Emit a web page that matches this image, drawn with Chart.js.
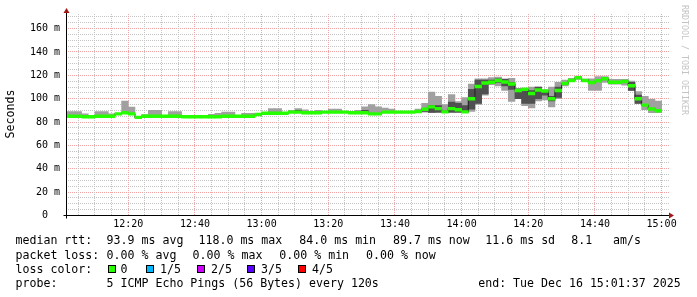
<!DOCTYPE html>
<html>
<head>
<meta charset="utf-8">
<script src="https://cdn.jsdelivr.net/npm/chart.js@4.4.1/dist/chart.umd.min.js"></script>
<style>
  html, body { margin: 0; padding: 0; background: #fff; overflow: hidden; }
</style>
</head>
<body>
<canvas id="smokeChart" width="697" height="297"></canvas>
<script>
// end of each 2 min step, minutes after 12:00
const bucketEnd = [
  2, 4, 6, 8, 10, 12, 14, 16, 18, 20,
  22, 24, 26, 28, 30, 32, 34, 36, 38, 40,
  42, 44, 46, 48, 50, 52, 54, 56, 58, 60,
  62, 64, 66, 68, 70, 72, 74, 76, 78, 80,
  82, 84, 86, 88, 90, 92, 94, 96, 98, 100,
  102, 104, 106, 108, 110, 112, 114, 116, 118, 120,
  122, 124, 126, 128, 130, 132, 134, 136, 138, 140,
  142, 144, 146, 148, 150, 152, 154, 156, 158, 160,
  162, 164, 166, 168, 170, 172, 174, 176, 178, 180
];

// median rtt (ms)
const median = [
  85, 85, 85, 84.5, 84.5, 85, 85, 85, 87, 88,
  87, 84, 85, 85, 85, 85, 85, 85, 84.5, 84.5,
  84.5, 84.5, 84.5, 84.5, 85, 85, 85, 85, 85, 86.5,
  87.5, 87.5, 87.5, 87.5, 88.5, 88.5, 88, 88, 88, 88.5,
  88.5, 88.5, 88.5, 88, 88, 88, 87, 87, 88.5, 88.5,
  88.5, 88.5, 88.5, 89, 91, 93, 91.5, 88.7, 91.5, 90.5,
  88.7, 100, 110.5, 113.5, 114, 115.5, 114.3, 112.5, 107, 108,
  104.5, 107.5, 106.5, 100, 107, 113, 115.5, 118, 115.5, 113.8,
  115.3, 117, 114, 114, 114.7, 111, 100, 94.5, 91.2, 89.7
];

// fastest ping of the 5
const pingLow = [
  85, 85, 85, 84.5, 84.5, 85, 85, 85, 87, 88,
  87, 84, 85, 85, 85, 85, 85, 85, 84.5, 84.5,
  84.5, 84.5, 84.5, 84.5, 85, 85, 85, 85, 85, 86.5,
  87.5, 87.5, 87.5, 87.5, 88.5, 88.5, 88, 88, 88, 88.5,
  88.5, 88.5, 88.5, 88, 88, 88, 87, 87, 88.5, 88.5,
  88.5, 88.5, 88.5, 88.5, 88.5, 88, 88, 88, 88, 88,
  88.5, 89, 95, 103, 112, 111, 107, 97.7, 100, 94,
  92, 98, 99, 93, 100, 111, 115, 116.5, 115, 107,
  107, 114, 112.5, 112.5, 111.5, 107, 96, 90.5, 88, 88
];

// 2nd ping
const ping2 = [
  85, 85, 85, 84.5, 84.5, 85, 85, 85, 87, 88,
  87, 84, 85, 85, 85, 85, 85, 85, 84.5, 84.5,
  84.5, 84.5, 84.5, 84.5, 85, 85, 85, 85, 85, 86.5,
  87.5, 87.5, 87.5, 87.5, 88.5, 88.5, 88, 88, 88, 88.5,
  88.5, 88.5, 88.5, 88, 88, 88, 87, 87, 88.5, 88.5,
  88.5, 88.5, 88.5, 89, 89, 88.3, 88.5, 88, 88.5, 88.5,
  88.5, 91, 96, 104, 113, 114, 111, 108, 100, 96,
  96, 100, 103, 98, 101, 113, 115.5, 118, 115, 113.8,
  115.3, 117, 114, 114, 114.7, 107, 96, 94.5, 91.2, 89.7
];

// 4th ping
const ping4 = [
  85, 85, 85, 84.5, 84.5, 85, 85, 85, 87, 88,
  87, 84, 85, 85, 85, 85, 85, 85, 84.5, 84.5,
  84.5, 84.5, 84.5, 84.5, 85, 85, 85, 85, 85, 86.5,
  87.5, 87.5, 87.5, 87.5, 88.5, 90, 88, 88, 88, 88.5,
  88.5, 88.5, 88.5, 88, 88, 90, 87, 87, 88.5, 88.5,
  88.5, 88.5, 88.5, 89, 91.5, 94, 94, 89.5, 97, 96,
  94, 108, 116, 116, 116, 117, 116.5, 114, 108.5, 108,
  107, 110, 107, 102, 110, 113, 115.5, 118, 116.5, 113.8,
  115.3, 117, 114, 114, 114.7, 114, 103, 94.5, 91.2, 89.7
];

// slowest ping of the 5
const pingHigh = [
  89, 89, 89, 87, 84.5, 89, 89, 87, 87, 98,
  92.8, 84, 86.5, 90, 90, 85, 89, 89, 84.5, 84.5,
  84.5, 84.5, 86.6, 87.5, 88.5, 88.5, 85, 87.5, 87.5, 86.5,
  87.5, 91.5, 91.5, 87.5, 90, 91.5, 90.5, 88, 90, 88.5,
  91, 91, 88.5, 88, 90, 93, 95, 93, 92, 91,
  88.5, 88.5, 88.5, 91, 96, 105.6, 102, 95, 103.5, 97.5,
  101, 112.6, 117, 117, 118, 118.5, 117, 117.5, 108.5, 108.5,
  110, 110, 107.5, 110, 114, 116, 117.5, 119, 116.8, 117,
  119, 119, 116.5, 116.5, 116.5, 115, 106, 102, 99.5, 98
];

const timeLabels = ['12:20', '12:40', '13:00', '13:20', '13:40', '14:00', '14:20', '14:40', '15:00'];
const timeLabelMinutes = [20, 40, 60, 80, 100, 120, 140, 160, 180];
const yLabels = ['0  ', '20 m', '40 m', '60 m', '80 m', '100 m', '120 m', '140 m', '160 m'];
const yLabelValues = [0, 20, 40, 60, 80, 100, 120, 140, 160];

const lossNames = ['0', '1/5', '2/5', '3/5', '4/5'];
const lossColors = ['#26ff00', '#00b8ff', '#d000ff', '#5a00ff', '#ff0000'];

// window 12:01:37 .. 15:01:37
const xMin = 1 + 37 / 60;
const xMax = xMin + 180;

const mono = '"DejaVu Sans Mono", monospace';
const minorGrid = '#c4c4c4';
const majorGrid = '#f2a4a4';

function ticksEvery(step, from, to) {
  const out = [];
  for (let v = from; v <= to; v += step) out.push({ value: v });
  return out;
}

// dotted rrdtool style grid, one pixel on, one off
const dottedGrid = {
  id: 'dottedGrid',
  beforeDatasetsDraw(chart) {
    const ctx = chart.ctx;
    const a = chart.chartArea;
    const xs = chart.scales.x, ys = chart.scales.y;
    const top = Math.round(a.top), bottom = Math.round(a.bottom);
    const left = Math.round(a.left), right = 670;
    ctx.save();
    ys.ticks.forEach(t => {
      if (t.value === 0) return;
      const row = Math.round(ys.getPixelForValue(t.value) - 0.5);
      ctx.fillStyle = yLabelValues.includes(t.value) ? majorGrid : minorGrid;
      for (let x = left + 1; x < right; x += 2) ctx.fillRect(x, row, 1, 1);
    });
    xs.ticks.forEach(t => {
      const col = Math.round(xs.getPixelForValue(t.value) - 0.5);
      ctx.fillStyle = timeLabelMinutes.includes(t.value) ? majorGrid : minorGrid;
      for (let y = top; y < bottom; y += 2) ctx.fillRect(col, y, 1, 1);
    });
    ctx.restore();
  }
};

const decor = {
  id: 'decor',
  afterDraw(chart) {
    const ctx = chart.ctx;
    const a = chart.chartArea;
    const ax = Math.round(a.left) - 0.5;
    const ay = Math.round(a.bottom) - 0.5;
    ctx.save();
    // axes
    ctx.strokeStyle = '#000';
    ctx.lineWidth = 1;
    ctx.beginPath();
    ctx.moveTo(ax, ay + 3);
    ctx.lineTo(ax, 12);
    ctx.moveTo(ax - 3, ay);
    ctx.lineTo(670, ay);
    ctx.stroke();
    // arrows
    ctx.fillStyle = '#a01818';
    ctx.beginPath();
    ctx.moveTo(ax - 3, 13); ctx.lineTo(ax + 3, 13); ctx.lineTo(ax, 8);
    ctx.fill();
    ctx.beginPath();
    ctx.moveTo(669, ay - 3); ctx.lineTo(669, ay + 3); ctx.lineTo(674, ay);
    ctx.fill();

    // y title
    ctx.fillStyle = '#000';
    ctx.font = '11.6px ' + mono;
    ctx.textAlign = 'center';
    ctx.textBaseline = 'middle';
    ctx.save();
    ctx.translate(10.5, 114);
    ctx.rotate(-Math.PI / 2);
    ctx.fillText('Seconds', 0, 0);
    ctx.restore();

    // watermark
    ctx.save();
    ctx.fillStyle = '#c4c4c4';
    ctx.font = '8.3px ' + mono;
    ctx.textAlign = 'left';
    ctx.translate(684.5, 5);
    ctx.rotate(Math.PI / 2);
    ctx.fillText('RRDTOOL / TOBI OETIKER', 0, 0);
    ctx.restore();

    // legend
    ctx.font = '11.6px ' + mono;
    ctx.textAlign = 'left';
    ctx.textBaseline = 'alphabetic';
    ctx.fillStyle = '#000';
    const put = (s, x, y) => ctx.fillText(s, x, y);
    put('median rtt:', 15.5, 244.3);
    put('93.9 ms avg', 106.6, 244.3);
    put('118.0 ms max', 198.5, 244.3);
    put('84.0 ms min', 299.3, 244.3);
    put('89.7 ms now', 393, 244.3);
    put('11.6 ms sd', 485.3, 244.3);
    put('8.1', 571.3, 244.3);
    put('am/s', 613, 244.3);

    put('packet loss:', 15.5, 258.5);
    put('0.00 % avg', 106.6, 258.5);
    put('0.00 % max', 192.6, 258.5);
    put('0.00 % min', 279.3, 258.5);
    put('0.00 % now', 366, 258.5);

    put('loss color:', 15.5, 272.8);
    const boxX = [108, 146, 197, 247, 298];
    const nameX = [120.5, 160, 211, 261, 312];
    lossNames.forEach((n, i) => {
      ctx.fillStyle = lossColors[i];
      ctx.fillRect(boxX[i], 265, 8, 8);
      ctx.strokeStyle = '#000';
      ctx.strokeRect(boxX[i] + 0.5, 265.5, 7, 7);
      ctx.fillStyle = '#000';
      put(n, nameX[i], 272.8);
    });

    put('probe:', 15.5, 287);
    put('5 ICMP Echo Pings (56 Bytes) every 120s', 106.6, 287);
    put('end: Tue Dec 16 15:01:37 2025', 478.2, 287);
    ctx.restore();
  }
};

const mid = bucketEnd.map(t => t - 1);

new Chart(document.getElementById('smokeChart'), {
  type: 'bar',
  data: {
    datasets: [
      {
        label: 'outer smoke',
        data: mid.map((x, i) => ({ x: x, y: [pingLow[i], pingHigh[i]] })),
        backgroundColor: '#a0a0a0',
        grouped: false,
        barPercentage: 1,
        categoryPercentage: 1,
        borderWidth: 0,
        order: 4
      },
      {
        label: 'inner smoke',
        data: mid.map((x, i) => ({ x: x, y: [ping2[i], ping4[i]] })),
        backgroundColor: '#505050',
        grouped: false,
        barPercentage: 1,
        categoryPercentage: 1,
        borderWidth: 0,
        order: 3
      },
      {
        type: 'line',
        label: 'median line',
        data: mid.map((x, i) => ({ x: x, y: median[i] })),
        borderColor: '#202020',
        borderWidth: 1,
        pointRadius: 0,
        stepped: 'middle',
        order: 2
      },
      {
        label: 'median',
        data: mid.map((x, i) => ({ x: x, y: [median[i] - 1.2, median[i] + 1.2] })),
        backgroundColor: lossColors[0],
        grouped: false,
        barPercentage: 1,
        categoryPercentage: 1,
        borderWidth: 0,
        order: 1
      }
    ]
  },
  options: {
    responsive: false,
    animation: false,
    layout: { padding: { left: 0, right: 30, top: 14, bottom: 61.5 } },
    plugins: { legend: { display: false }, tooltip: { enabled: false } },
    scales: {
      x: {
        type: 'linear',
        min: xMin,
        max: xMax,
        offset: false,
        afterBuildTicks: s => { s.ticks = ticksEvery(5, 5, 180); },
        afterFit: s => { s.height = 20; },
        grid: { display: false, drawTicks: false },
        border: { display: false },
        ticks: {
          autoSkip: false,
          maxRotation: 0,
          padding: 3,
          color: '#000',
          font: { family: mono, size: 10 },
          callback: v => {
            const k = timeLabelMinutes.indexOf(v);
            return k >= 0 ? timeLabels[k] : '';
          }
        }
      },
      y: {
        min: 0,
        max: 172.5,
        afterBuildTicks: s => { s.ticks = ticksEvery(5, 0, 170); },
        afterFit: s => { s.width = 67; },
        grid: { display: false, drawTicks: false },
        border: { display: false },
        ticks: {
          autoSkip: false,
          padding: 7,
          color: '#000',
          font: { family: mono, size: 10 },
          callback: v => {
            const k = yLabelValues.indexOf(v);
            return k >= 0 ? yLabels[k] : '';
          }
        }
      }
    }
  },
  plugins: [dottedGrid, decor]
});
</script>
</body>
</html>
